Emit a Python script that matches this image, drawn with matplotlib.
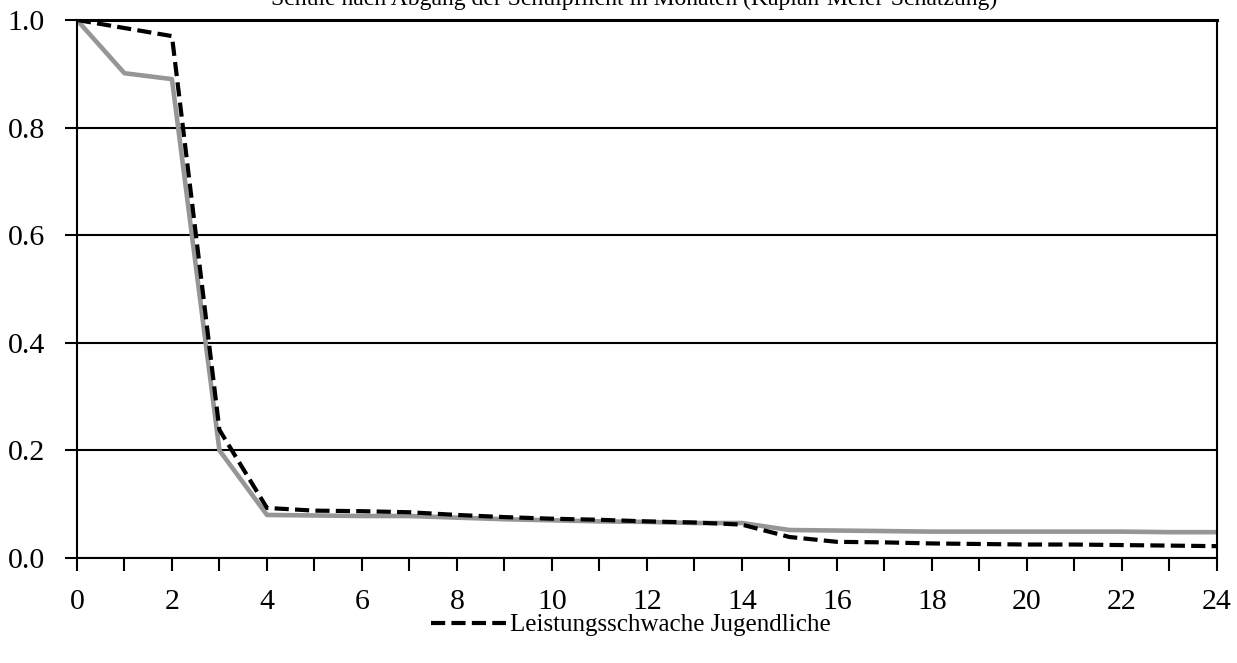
import matplotlib.pyplot as plt
import numpy as np

plt.rcParams["font.family"] = ["Liberation Serif", "DejaVu Serif"]

months = np.arange(0, 25)
schwach = [1.0, 0.985, 0.970, 0.238, 0.093, 0.088, 0.087, 0.085, 0.080, 0.076,
           0.073, 0.071, 0.068, 0.066, 0.062, 0.039, 0.030, 0.029, 0.027,
           0.026, 0.025, 0.025, 0.024, 0.023, 0.022]
andere = [1.0, 0.901, 0.890, 0.200, 0.080, 0.079, 0.078, 0.078, 0.075, 0.072,
          0.070, 0.068, 0.067, 0.065, 0.065, 0.052, 0.051, 0.050, 0.049,
          0.049, 0.049, 0.049, 0.049, 0.048, 0.048]

fig = plt.figure(figsize=(12.37, 6.63), dpi=100)
ax = fig.add_axes([0.0622, 0.1584, 0.9216, 0.8115])

ax.plot(months, andere, color="#969696", lw=3.3, solid_capstyle="butt")
line, = ax.plot(months, schwach, color="black", lw=3.0, dashes=(3.4, 1.5),
                label="Leistungsschwache Jugendliche")

ax.set_xlim(0, 24)
ax.set_ylim(0, 1.0)
ax.set_xticks(months)
ax.set_xticklabels([str(m) if m % 2 == 0 else "" for m in months])
ax.set_yticks(np.arange(0, 1.01, 0.2))
ax.set_yticklabels([f"{v:.1f}" for v in np.arange(0, 1.01, 0.2)])
ax.yaxis.grid(True, color="black", lw=1.5)
ax.set_axisbelow(True)
ax.tick_params(axis="both", direction="out", length=9, width=1.5,
               labelsize=21.5, colors="black")
ax.tick_params(axis="y", pad=14)
ax.tick_params(axis="x", pad=13)
for s in ax.spines.values():
    s.set_color("black")
    s.set_linewidth(1.5)
ax.spines["top"].set_linewidth(2.2)

fig.text(0.513, 0.9925,
         "Schule nach Abgang der Schulpflicht in Monaten (Kaplan-Meier-Schätzung)",
         ha="center", va="baseline", fontsize=17)

fig.legend(handles=[line], loc="center", bbox_to_anchor=(0.510, 0.057),
           frameon=False, fontsize=18, handlelength=3.0, handletextpad=0.15)

fig.savefig("out.png", dpi=100)
